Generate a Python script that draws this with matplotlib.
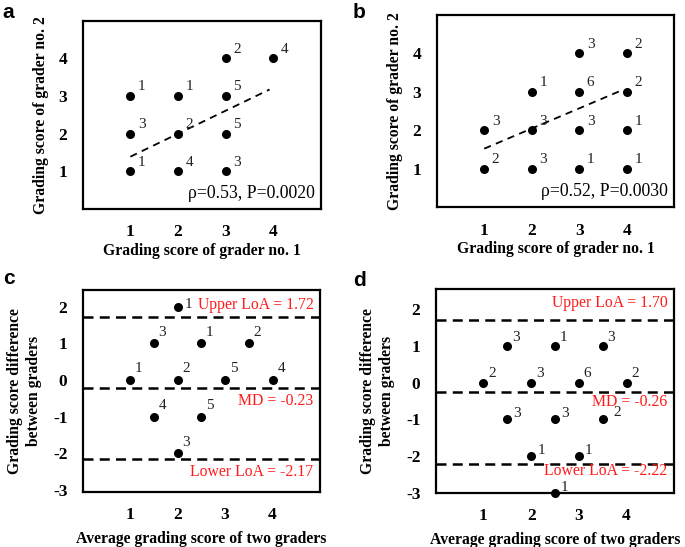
import numpy as np
import matplotlib
matplotlib.use("Agg")
import matplotlib.pyplot as plt

plt.rcParams['font.family'] = ['Liberation Serif', 'DejaVu Serif']
plt.rcParams['axes.unicode_minus'] = False

# panel a: grader 1 vs grader 2 (with counts)
a_x = [1, 1, 1, 2, 2, 2, 3, 3, 3, 3, 4]
a_y = [1, 2, 3, 1, 2, 3, 1, 2, 3, 4, 4]
a_n = [1, 3, 1, 4, 2, 1, 3, 5, 5, 2, 4]
a_stat = "ρ=0.53, P=0.0020"

# panel b
b_x = [1, 1, 2, 2, 2, 3, 3, 3, 3, 4, 4, 4, 4]
b_y = [1, 2, 1, 2, 3, 1, 2, 3, 4, 1, 2, 3, 4]
b_n = [2, 3, 3, 3, 1, 1, 3, 6, 3, 1, 1, 2, 2]
b_stat = "ρ=0.52, P=0.0030"

# panel c: Bland-Altman (mean, difference, count)
c_avg = [1, 1.5, 1.5, 2, 2, 2.5, 2.5, 3, 3.5, 4, 2]
c_diff = [0, 1, -1, 0, -2, 1, -1, 0, 1, 0, 2]
c_n = [1, 3, 4, 2, 3, 1, 5, 5, 2, 4, 1]
c_lines = [1.72, -0.23, -2.17]
c_texts = ["Upper LoA = 1.72", "MD = -0.23", "Lower LoA = -2.17"]

# panel d
d_avg = [1, 1.5, 1.5, 2, 2, 2.5, 2.5, 2.5, 3, 3, 3.5, 3.5, 4]
d_diff = [0, 1, -1, 0, -2, 1, -1, -3, 0, -2, 1, -1, 0]
d_n = [2, 3, 3, 3, 1, 1, 3, 1, 6, 1, 3, 2, 2]
d_lines = [1.70, -0.26, -2.22]
d_texts = ["Upper LoA = 1.70", "MD = -0.26", "Lower LoA = -2.22"]

ticks_x = [1, 2, 3, 4]

fig = plt.figure(figsize=(6.85, 5.47), dpi=100)
ax_a = fig.add_axes([0.1207, 0.6179, 0.348, 0.3443])
ax_b = fig.add_axes([0.6375, 0.621, 0.3469, 0.3516])
ax_c = fig.add_axes([0.1207, 0.1011, 0.3465, 0.3687])
ax_d = fig.add_axes([0.6361, 0.0993, 0.3483, 0.3724])


def style_axes(ax):
    for s in ax.spines.values():
        s.set_linewidth(1.6)
    ax.tick_params(length=0, pad=11, labelsize=12.5)
    for lab in ax.get_xticklabels() + ax.get_yticklabels():
        lab.set_fontweight('bold')


def put_counts(ax, xs, ys, ns, off, special={}):
    ax.scatter(xs, ys, s=30, color='black', zorder=3, clip_on=False)
    for i, (x, y, n) in enumerate(zip(xs, ys, ns)):
        # count labels sit up-right of the dot, a few are nudged
        o = special.get(i, off)
        if y < 0 and ax is ax_d and i not in special:
            o = (off[0] + 1, off[1] - 2)
        ax.annotate(str(n), (x, y), xytext=o, textcoords='offset points',
                    ha='center', va='center', fontsize=11, color='#222222')


def scatter_panel(ax, xs, ys, ns, stat, x_end):
    put_counts(ax, xs, ys, ns, (8.2, 6.6))
    # weighted least squares line
    k, b = np.polyfit(np.repeat(xs, ns), np.repeat(ys, ns), 1)
    xl = np.array([1, x_end])
    ax.plot(xl, k * xl + b, color='black', ls=(0, (4, 3)), lw=1.3)
    ax.set_xlim(0, 5)
    ax.set_ylim(0, 5)
    ax.set_xticks(ticks_x)
    ax.set_yticks([1, 2, 3, 4])
    ax.text(4.86, 0.4, stat, ha='right', va='center', fontsize=12.8)
    ax.set_xlabel("Grading score of grader no. 1", fontsize=11.3, fontweight='bold', labelpad=2)
    ax.set_ylabel("Grading score of grader no. 2", fontsize=11.3, fontweight='bold', labelpad=7)
    style_axes(ax)


def ba_panel(ax, xs, ys, ns, lines, texts, ylim, text_y, off, special):
    put_counts(ax, xs, ys, ns, off, special)
    for v in lines:
        ax.axhline(v, color='black', ls=(0, (4, 2.5)), lw=1.8)
    for t, ty in zip(texts, text_y):
        ax.text(4.86, ty, t, ha='right', va='center', fontsize=11.3, color='#ff1a1a')
    ax.set_xlim(0, 5)
    ax.set_ylim(*ylim)
    ax.set_xticks(ticks_x)
    ax.set_yticks([-3, -2, -1, 0, 1, 2])
    ax.set_xlabel("Average grading score of two graders", fontsize=11.3, fontweight='bold', labelpad=6)
    ax.set_ylabel("Grading score difference\nbetween graders", fontsize=11.3, fontweight='bold', labelpad=8)
    style_axes(ax)


scatter_panel(ax_a, a_x, a_y, a_n, a_stat, 3.92)
scatter_panel(ax_b, b_x, b_y, b_n, b_stat, 3.93)
ba_panel(ax_c, c_avg, c_diff, c_n, c_lines, c_texts, (-3.05, 2.45), [2.05, -0.59, -2.51],
         (6.2, 7.9), {10: (8, 1.4)})
ba_panel(ax_d, d_avg, d_diff, d_n, d_lines, d_texts, (-3.0, 2.55), [2.16, -0.52, -2.42],
         (6.2, 6.2), {11: (10.3, 4.8), 7: (6.5, 3.8)})

for lbl, x, y in [('a', 0.004, 0.978), ('b', 0.515, 0.978), ('c', 0.004, 0.49), ('d', 0.515, 0.487)]:
    fig.text(x, y, lbl, fontsize=15, fontweight='bold', family='Liberation Sans', ha='left', va='center')

fig.savefig("out.png", dpi=100)
